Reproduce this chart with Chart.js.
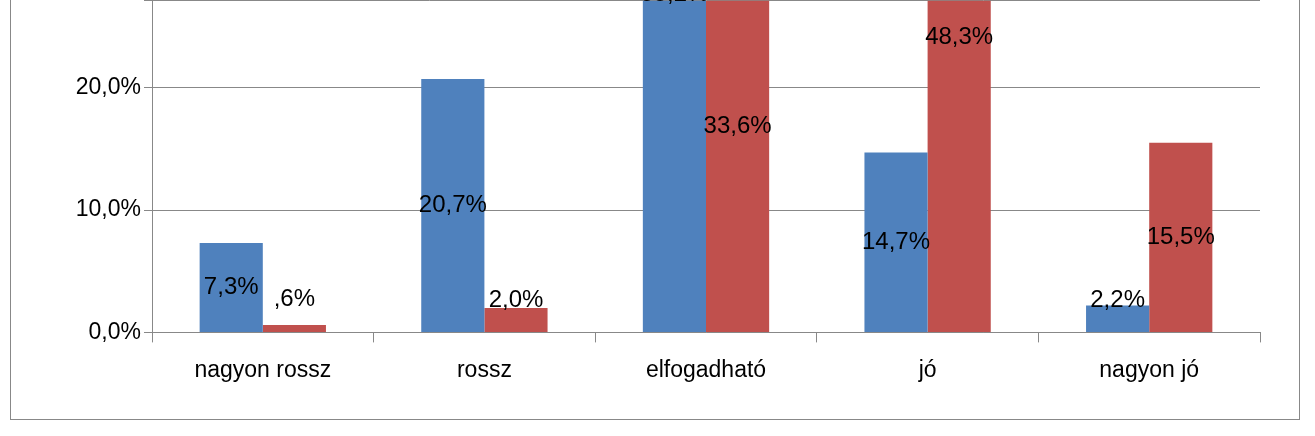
<!DOCTYPE html>
<html lang="en">
<head>
<meta charset="UTF-8">
<title>Chart</title>
<script src="https://cdn.jsdelivr.net/npm/chart.js@4.4.1/dist/chart.umd.min.js"></script>
<style>
  html, body { margin: 0; padding: 0; background: #fff; overflow: hidden; }
  #frame { position: absolute; left: 10px; top: -2px; width: 1290px; height: 422px; border: 1.5px solid #888; box-sizing: border-box; }
  #wrap { position: absolute; left: 0; top: -16px; width: 1315px; height: 452px; }
</style>
</head>
<body>
<div id="frame"></div>
<div id="wrap"><canvas id="myChart" width="1315" height="452"></canvas></div>
<script>
  var categories = ['nagyon rossz', 'rossz', 'elfogadható', 'jó', 'nagyon jó'];
  var blueValues = [7.3, 20.7, 55.2, 14.7, 2.2];
  var redValues = [0.6, 2.0, 33.6, 48.3, 15.5];
  var blueLabels = ['7,3%', '20,7%', '55,2%', '14,7%', '2,2%'];
  var redLabels = [',6%', '2,0%', '33,6%', '48,3%', '15,5%'];

  var barLabels = {
    id: 'barLabels',
    afterDatasetsDraw: function (chart) {
      var ctx = chart.ctx;
      ctx.save();
      ctx.font = '24px "Liberation Sans", "Open Sans", sans-serif';
      ctx.fillStyle = '#000';
      ctx.textAlign = 'center';
      ctx.textBaseline = 'middle';
      var texts = [blueLabels, redLabels];
      chart.data.datasets.forEach(function (ds, i) {
        chart.getDatasetMeta(i).data.forEach(function (bar, j) {
          var base = chart.scales.y.getPixelForValue(0);
          var yMid = (bar.y + base) / 2;
          if (ds.data[j] < 2) yMid = base - 33;
          else if (ds.data[j] < 3) yMid = base - 32;
          ctx.fillText(texts[i][j], bar.x, yMid);
        });
      });
      ctx.restore();
    }
  };

  var ctx = document.getElementById('myChart').getContext('2d');
  new Chart(ctx, {
    type: 'bar',
    data: {
      labels: categories,
      datasets: [
        { data: blueValues, backgroundColor: '#4f81bd', barPercentage: 1, categoryPercentage: 0.57 },
        { data: redValues, backgroundColor: '#c0504d', barPercentage: 1, categoryPercentage: 0.57 }
      ]
    },
    options: {
      responsive: false,
      animation: false,
      layout: { padding: { top: 0, right: 55, bottom: 38, left: 0 } },
      plugins: { legend: { display: false }, tooltip: { enabled: false } },
      scales: {
        x: {
          offset: true,
          grid: { display: true, offset: true, drawOnChartArea: false, color: '#888', tickLength: 10 },
          border: { color: '#888' },
          ticks: { color: '#000', font: { size: 23, family: '"Liberation Sans", sans-serif' }, padding: 14 }
        },
        y: {
          min: 0,
          max: 27.1,
          afterFit: function (s) { s.width = 152; },
          grid: { color: '#888', tickLength: 8 },
          border: { color: '#888' },
          ticks: {
            stepSize: 10,
            color: '#000',
            font: { size: 23, family: '"Liberation Sans", sans-serif' },
            callback: function (v) { return v % 10 === 0 ? v.toFixed(1).replace('.', ',') + '%' : ''; }
          }
        }
      }
    },
    plugins: [barLabels]
  });
</script>
</body>
</html>
